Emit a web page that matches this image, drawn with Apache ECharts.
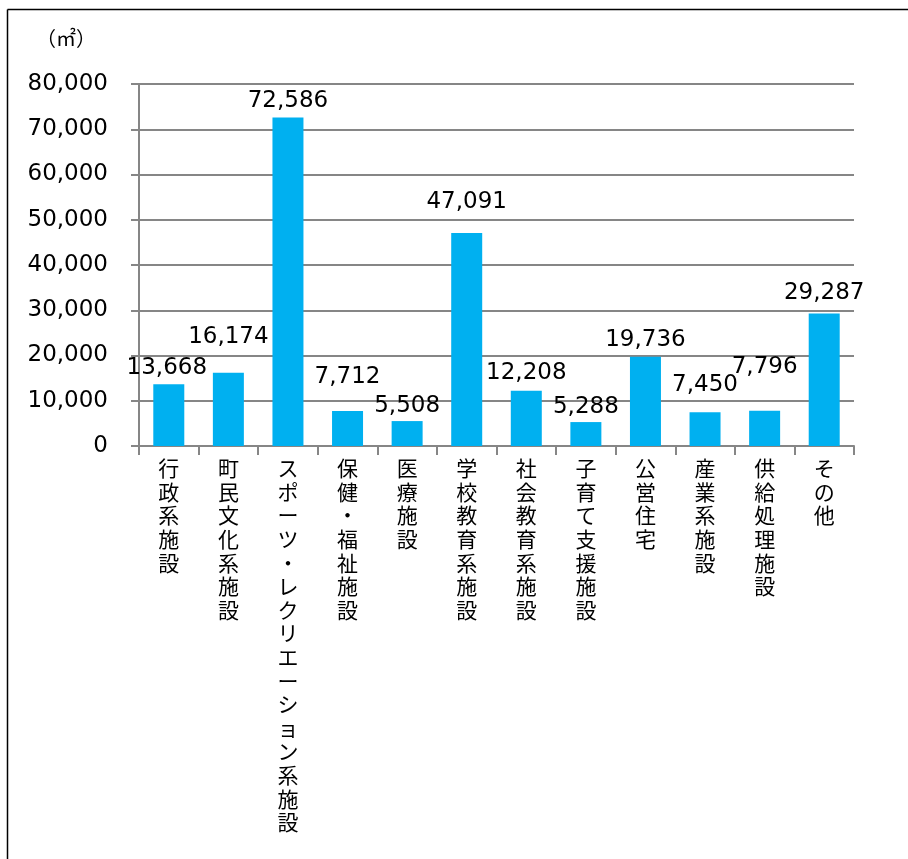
<!DOCTYPE html>
<html>
<head>
<meta charset="utf-8">
<script src="https://cdn.jsdelivr.net/npm/echarts@6/dist/echarts.min.js"></script>
<style>
  html, body { margin: 0; padding: 0; background: #fff; }
  #chart { width: 908px; height: 859px; }
</style>
</head>
<body>
<div id="chart"></div>
<script>
// 施設分類ごとの延床面積（㎡）
const categories = ['行政系施設', '町民文化系施設', 'スポーツ・レクリエーション系施設', '保健・福祉施設', '医療施設',
  '学校教育系施設', '社会教育系施設', '子育て支援施設', '公営住宅', '産業系施設', '供給処理施設', 'その他']
const areaValues = [13668, 16174, 72586, 7712, 5508, 47091, 12208, 5288, 19736, 7450, 7796, 29287]
const unitLabel = '（㎡）'

const fontFamily = '"DejaVu Sans", "Noto Sans CJK JP", sans-serif'

// label nudges, the original labels were dragged by hand in places
const labelOffsets = [[-2, 0], [0, -19], [0, 0], [0, -18], [0, 1], [0, -14],
  [0, -1], [0, 1], [0, 0], [0, -11], [0, -27], [0, -4]]

const myChart = echarts.init(document.getElementById('chart'))

const barData = areaValues.map(function(v, i) {
  return { value: v, label: { offset: labelOffsets[i] } }
})

const option = {
  animation: false,
  backgroundColor: '#fff',
  textStyle: { fontFamily: fontFamily },
  grid: {
    left: 139,
    right: 54,
    top: 84,
    bottom: 413
  },
  graphic: [
    { type: 'line', shape: { x1: 7.5, y1: 9.5, x2: 908, y2: 9.5 }, style: { stroke: '#000', lineWidth: 1.5 } },
    { type: 'line', shape: { x1: 7.5, y1: 9.5, x2: 7.5, y2: 859 }, style: { stroke: '#000', lineWidth: 1.5 } },
    {
      type: 'text', left: 36, top: 31,
      style: { text: unitLabel, fontSize: 20, fill: '#000', fontFamily: fontFamily }
    }
  ],
  xAxis: {
    type: 'category',
    data: categories,
    axisLine: { lineStyle: { color: '#868686', width: 2 } },
    axisTick: { show: true, length: 9, lineStyle: { color: '#868686', width: 2 } },
    axisLabel: {
      interval: 0,
      margin: 13,
      color: '#000',
      fontSize: 21,
      lineHeight: 23.6,
      verticalAlign: 'top',
      formatter: function(val) {
        return val.split('').join('\n')
      }
    }
  },
  yAxis: {
    type: 'value',
    min: 0,
    max: 80000,
    interval: 10000,
    axisLine: { show: true, lineStyle: { color: '#868686', width: 2 } },
    axisTick: { show: true, length: 8, lineStyle: { color: '#868686', width: 2 } },
    splitLine: { show: true, lineStyle: { color: '#868686', width: 2 } },
    axisLabel: {
      margin: 31,
      color: '#000',
      fontSize: 23,
      formatter: function(val) {
        return val.toLocaleString('en-US')
      }
    }
  },
  series: [{
    type: 'bar',
    data: barData,
    barWidth: 31,
    itemStyle: { color: '#00B0F0' },
    label: {
      show: true,
      position: 'top',
      distance: 5,
      color: '#000',
      fontSize: 23,
      formatter: function(p) {
        return p.value.toLocaleString('en-US')
      }
    }
  }]
}

myChart.setOption(option)
</script>
</body>
</html>
